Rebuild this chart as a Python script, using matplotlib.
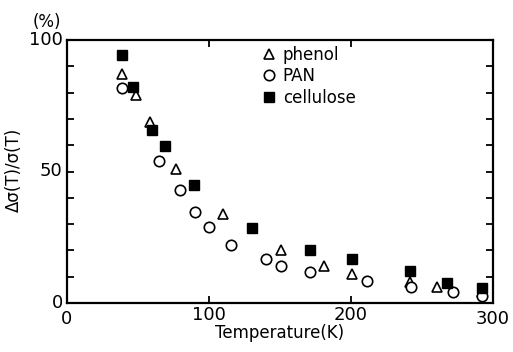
import matplotlib
matplotlib.use("Agg")
import matplotlib.pyplot as plt

# values
phenol_T = [38.5, 48.6, 58.5, 76.8, 110, 150.5, 181, 200.5, 241.5, 260.8, 292]
phenol_v = [87, 79, 69, 51, 34, 20, 14, 11, 8, 6, 4]

pan_T = [39, 65, 79.6, 89.9, 99.8, 115.5, 140, 151, 171, 211, 242, 271.6, 292.5]
pan_v = [81.6, 54, 43, 34.5, 29, 22, 16.7, 14, 11.6, 8.4, 6, 4, 2.7]

cell_T = [38.5, 46.3, 60, 68.8, 89.4, 130, 171, 200.5, 241.5, 267.4, 292]
cell_v = [94.4, 82.3, 65.8, 59.7, 45, 28.7, 20, 16.7, 12.2, 7.5, 5.6]

fig = plt.figure(figsize=(5.13, 3.52), dpi=100)
ax = fig.add_axes([67 / 513, 1 - 303 / 352, 426 / 513, 263 / 352])

ax.plot(phenol_T, phenol_v, linestyle='none', marker='^', markersize=6.5,
        markerfacecolor='white', markeredgecolor='black', markeredgewidth=1.2, label='phenol')
ax.plot(pan_T, pan_v, linestyle='none', marker='o', markersize=7.5,
        markerfacecolor='white', markeredgecolor='black', markeredgewidth=1.2, label='PAN')
ax.plot(cell_T, cell_v, linestyle='none', marker='s', markersize=7,
        markerfacecolor='black', markeredgecolor='black', label='cellulose')

ax.set_xlim(0, 300)
ax.set_ylim(0, 100)
for s in ax.spines.values():
    s.set_linewidth(1.6)

# axis numbers placed manually, ticks drawn inward
ax.set_xticks([100, 200])
ax.set_xticklabels(['100', '200'])
ax.set_yticks(range(10, 100, 10))
ax.set_yticklabels([])
ax.tick_params(axis='both', direction='in', length=5, width=1.3,
               top=True, right=True, labelsize=13, pad=2)
ax.text(0, -2.5, '0', ha='center', va='top', fontsize=13, clip_on=False)
ax.text(300, -2.5, '300', ha='center', va='top', fontsize=13, clip_on=False)
for val in [0, 50, 100]:
    ax.text(-3, val, str(val), ha='right', va='center', fontsize=13, clip_on=False)
ax.text(-14, 107, '(%)', ha='center', va='center', fontsize=12, clip_on=False)

ax.set_xlabel('Temperature(K)', fontsize=12, labelpad=0)
ax.set_ylabel('Δσ(T)/σ(T)', fontsize=12)
ax.yaxis.set_label_coords(-0.103, 0.506)

ax.legend(loc='upper left', bbox_to_anchor=(0.44, 1.003), frameon=False,
          fontsize=12, handletextpad=0.3, labelspacing=0.2, borderaxespad=0,
          handlelength=1.0)

fig.savefig('out.png', dpi=100)
